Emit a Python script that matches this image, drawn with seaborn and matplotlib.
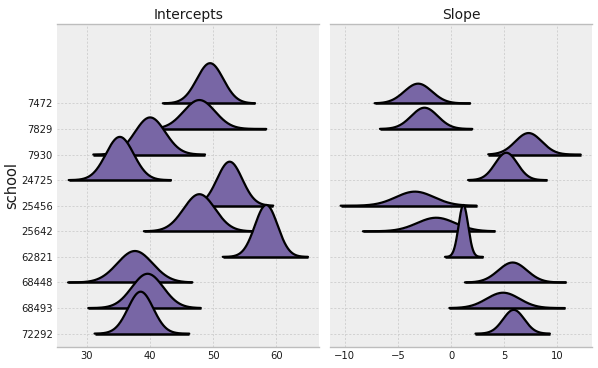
import numpy as np
import pandas as pd
import matplotlib
matplotlib.use("Agg")
import matplotlib.pyplot as plt
import seaborn as sns

# ---- data ----
schools = ["7472", "7829", "7930", "24725", "25456", "25642", "62821", "68448", "68493", "72292"]

# Intercepts: peak location, spread, peak height (in row units), range of samples
int_mode = [49.5, 47.8, 40.0, 35.2, 52.6, 47.8, 58.4, 37.6, 39.6, 38.5]
int_sd = [2.1, 2.5, 2.4, 2.2, 2.0, 2.5, 1.8, 2.8, 2.5, 2.0]
int_peak = [1.57, 1.13, 1.45, 1.69, 1.72, 1.45, 2.03, 1.23, 1.34, 1.64]
int_lo = [42.0, 41.7, 31.0, 27.1, 46.0, 39.0, 51.5, 27.0, 30.2, 31.2]
int_hi = [56.6, 58.4, 48.7, 43.3, 59.5, 56.5, 65.0, 46.7, 48.0, 46.2]

# Slopes
slp_mode = [-3.1, -2.5, 7.3, 5.2, -3.4, -1.4, 1.16, 5.8, 4.9, 5.9]
slp_sd = [1.3, 1.25, 1.25, 1.05, 1.8, 1.8, 0.45, 1.35, 1.55, 1.0]
slp_peak = [0.77, 0.83, 0.84, 1.07, 0.55, 0.53, 2.03, 0.78, 0.60, 0.93]
slp_lo = [-7.2, -6.7, 3.5, 1.6, -10.4, -8.3, -0.57, 1.3, -0.16, 2.3]
slp_hi = [1.8, 2.0, 12.2, 9.0, 2.4, 4.1, 3.0, 10.8, 10.7, 9.3]

titles = ["Intercepts", "Slope"]
int_ticks = [30, 40, 50, 60]
slp_ticks = [-10, -5, 0, 5, 10]

FILL = "#7866a5"
GRID = "#cdcdcd"

sns.set_style("darkgrid", {
    "axes.facecolor": "#eeeeee",
    "grid.color": GRID,
    "grid.linestyle": "--",
    "axes.edgecolor": "#bfbfbf",
})
plt.rcParams["font.family"] = ["DejaVu Sans"]

fig = plt.figure(figsize=(5.98, 3.68), dpi=100)
ax1 = fig.add_axes([57 / 598, 1 - 346.7 / 368, (319.3 - 57) / 598, (346.7 - 24.3) / 368])
ax2 = fig.add_axes([330 / 598, 1 - 346.7 / 368, (592.3 - 330) / 598, (346.7 - 24.3) / 368], sharey=ax1)

n = len(schools)
ypos = {s: n - 1 - i for i, s in enumerate(schools)}


def ridges(ax, mode, sd, peak, lo, hi):
    for i, s in enumerate(schools):
        base = ypos[s]
        x = np.linspace(lo[i], hi[i], 300)
        dens = peak[i] * np.exp(-0.5 * ((x - mode[i]) / sd[i]) ** 2)
        df = pd.DataFrame({"x": x, "y": base + dens})
        z = 2 + i * 3
        ax.fill_between(x, base, base + dens, color=FILL, linewidth=0, zorder=z)
        sns.lineplot(data=df, x="x", y="y", ax=ax, color="black", linewidth=1.6,
                     zorder=z + 1, sort=False, estimator=None)
        ax.plot([lo[i], hi[i]], [base, base], color="black", linewidth=1.8,
                solid_capstyle="butt", zorder=z + 2)


ridges(ax1, int_mode, int_sd, int_peak, int_lo, int_hi)
ridges(ax2, slp_mode, slp_sd, slp_peak, slp_lo, slp_hi)

ax1.set_xlim(25.25, 66.8)
ax2.set_xlim(-11.4, 13.3)
ax1.set_ylim(-0.51, 12.09)
ax1.set_xticks(int_ticks)
ax2.set_xticks(slp_ticks)
ax1.set_yticks([ypos[s] for s in schools])
ax1.set_yticklabels(schools)

for ax, t in zip([ax1, ax2], titles):
    ax.set_title(t, fontsize=10, color="#1a1a1a", pad=4)
    ax.set_xlabel("")
    ax.set_ylabel("")
    for side in ["left", "right"]:
        ax.spines[side].set_visible(False)
    for side in ["top", "bottom"]:
        ax.spines[side].set_visible(True)
        ax.spines[side].set_color("#bdbdbd")
        ax.spines[side].set_linewidth(1.0)
    ax.tick_params(axis="x", direction="in", length=3, width=0.8, color="#222222",
                   labelsize=7.2, labelcolor="#1a1a1a", pad=3)
    ax.tick_params(axis="y", length=0, labelsize=7.2, labelcolor="#1a1a1a", pad=3)
    ax.grid(True, color=GRID, linewidth=0.6, linestyle=(0, (2.5, 2)))
    ax.set_axisbelow(True)

ax2.tick_params(axis="y", labelleft=False)
ax1.set_ylabel("school", fontsize=10.5, color="#1a1a1a", labelpad=1)

fig.savefig("out.png", dpi=100)
